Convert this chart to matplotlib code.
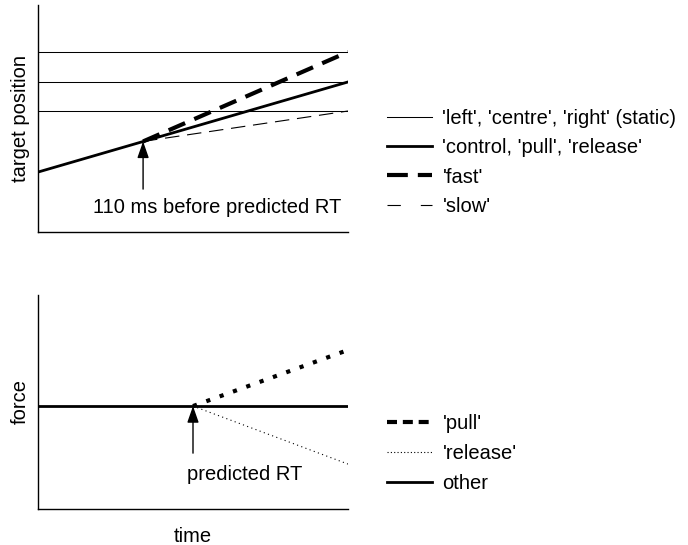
import matplotlib.pyplot as plt
from matplotlib.lines import Line2D

plt.rcParams['font.family'] = ['Liberation Sans', 'DejaVu Sans']

# top panel: target position over time (arbitrary units 0..1)
static_levels = [0.793, 0.661, 0.533]
control_x = [0.0, 1.0]
control_y = [0.264, 0.661]
branch_x = 0.339
branch_y = 0.399
fast_end = 0.793
slow_end = 0.533

# bottom panel: force over time
baseline_force = 0.481
rt_x = 0.5
pull_end = 0.743
release_end = 0.210

top_labels = ["'left', 'centre', 'right' (static)", "'control, 'pull', 'release'", "'fast'", "'slow'"]
bottom_labels = ["'pull'", "'release'", "other"]

FS = 14.5
fig = plt.figure(figsize=(6.88, 5.45), dpi=100)
ax1 = fig.add_axes([38 / 688, 1 - 232 / 545, 310 / 688, 227 / 545])
ax2 = fig.add_axes([38 / 688, 1 - 509 / 545, 310 / 688, 214 / 545])

for ax in (ax1, ax2):
    ax.set_xlim(0, 1)
    ax.set_ylim(0, 1)
    ax.spines['top'].set_visible(False)
    ax.spines['right'].set_visible(False)
    ax.spines['left'].set_linewidth(1.0)
    ax.spines['bottom'].set_linewidth(1.0)
    ax.set_xticks([])
    ax.set_yticks([])

# top panel
for lv in static_levels:
    ax1.plot([0, 1], [lv, lv], color='black', lw=0.75, solid_capstyle='butt')
ax1.plot(control_x, control_y, color='black', lw=2)
ax1.plot([branch_x, 1], [branch_y, fast_end], color='black', lw=3, dashes=(4.3, 2.4))
ax1.plot([branch_x, 1], [branch_y, slow_end], color='black', lw=0.8, dashes=(13, 7))
ax1.annotate('', xy=(branch_x, branch_y), xytext=(branch_x, branch_y - 0.21),
             arrowprops=dict(arrowstyle='-|>,head_length=1.0,head_width=0.35',
                             color='black', lw=1, shrinkA=0, shrinkB=0))
ax1.text(0.577, 0.106, '110 ms before predicted RT', ha='center', va='center', fontsize=FS)
ax1.set_ylabel('target position', fontsize=FS, labelpad=6)

h1 = [Line2D([], [], color='black', lw=0.75),
      Line2D([], [], color='black', lw=2),
      Line2D([], [], color='black', lw=3, dashes=(5, 2.4)),
      Line2D([], [], color='black', lw=0.8, dashes=(12, 18))]
fig.legend(h1, top_labels, loc='upper left', bbox_to_anchor=(387 / 688, 1 - 109 / 545),
           frameon=False, fontsize=FS, handlelength=2.25, handletextpad=0.5,
           labelspacing=0.51, borderaxespad=0, borderpad=0)

# bottom panel
ax2.plot([0, 1], [baseline_force, baseline_force], color='black', lw=2)
ax2.plot([rt_x, 1], [baseline_force, pull_end], color='black', lw=3, dashes=(1, 2.4))
ax2.plot([rt_x, 1], [baseline_force, release_end], color='black', lw=0.8, dashes=(1, 3))
ax2.annotate('', xy=(rt_x, baseline_force), xytext=(rt_x, baseline_force - 0.22),
             arrowprops=dict(arrowstyle='-|>,head_length=1.0,head_width=0.35',
                             color='black', lw=1, shrinkA=0, shrinkB=0))
ax2.text(0.668, 0.159, 'predicted RT', ha='center', va='center', fontsize=FS)
ax2.set_ylabel('force', fontsize=FS, labelpad=6)
ax2.set_xlabel('time', fontsize=FS, labelpad=13)

h2 = [Line2D([], [], color='black', lw=3, dashes=(2.4, 1.4)),
      Line2D([], [], color='black', lw=0.8, dashes=(1, 2)),
      Line2D([], [], color='black', lw=2)]
fig.legend(h2, bottom_labels, loc='upper left', bbox_to_anchor=(387 / 688, 1 - 414 / 545),
           frameon=False, fontsize=FS, handlelength=2.25, handletextpad=0.5,
           labelspacing=0.55, borderaxespad=0, borderpad=0)

fig.savefig('out.png', dpi=100)
